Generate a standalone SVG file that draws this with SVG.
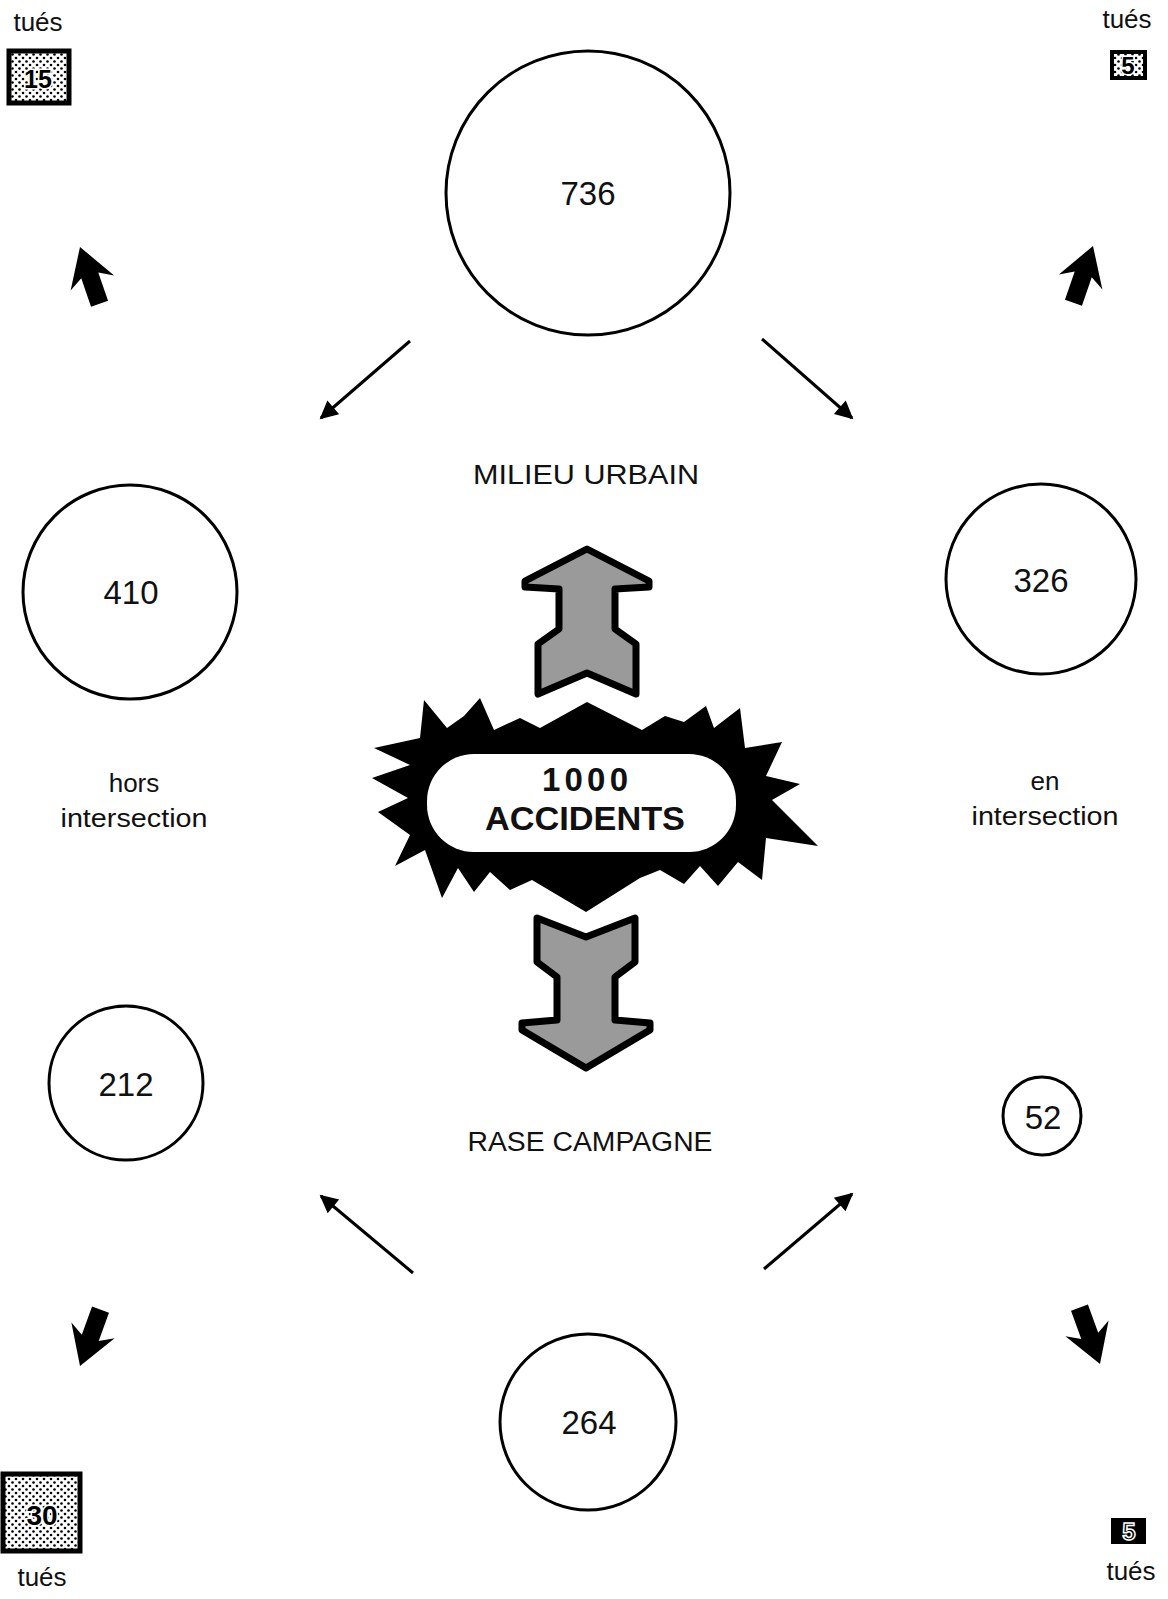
<svg xmlns="http://www.w3.org/2000/svg" xmlns:xlink="http://www.w3.org/1999/xlink" width="1168" height="1599" viewBox="0 0 1168 1599">
<defs>
<style>
.c{fill:#fff;stroke:#000;stroke-width:3}
.n{font-family:"Liberation Sans",Arial,sans-serif;font-size:33px;text-anchor:middle;fill:#111}
.t{font-family:"Liberation Sans",Arial,sans-serif;font-size:26px;text-anchor:middle;fill:#111}
.cap{font-family:"Liberation Sans",Arial,sans-serif;font-size:27px;text-anchor:middle;fill:#111}
.big{font-family:"Liberation Sans",Arial,sans-serif;font-size:33px;font-weight:bold;text-anchor:middle;fill:#111}
.bx{font-family:"Liberation Sans",Arial,sans-serif;font-weight:bold;text-anchor:middle;fill:#000;stroke:#fff;stroke-width:3;paint-order:stroke}
.ln{stroke:#000;stroke-width:3;fill:none}
.gr{fill:#9a9a9a;stroke:#000;stroke-width:7;stroke-linejoin:round}
</style>
<pattern id="dots" width="7" height="7" patternUnits="userSpaceOnUse">
<rect width="7" height="7" fill="#fff"/>
<circle cx="2" cy="2" r="1.3" fill="#000"/>
<circle cx="5.5" cy="5.5" r="1.3" fill="#000"/>
</pattern>
<marker id="ah" viewBox="0 0 10 10" refX="9" refY="5" markerWidth="7" markerHeight="6" markerUnits="strokeWidth" orient="auto">
<path d="M0,0 L10,5 L0,10 Z" fill="#000"/>
</marker>
<path id="fat" d="M0,0 L23,38 L9,30 L9,60 L-9,60 L-9,30 L-23,38 Z" fill="#000"/>
</defs>
<rect width="1168" height="1599" fill="#fff"/>

<g id="connectors">
<line class="ln" x1="410" y1="341" x2="321" y2="418" marker-end="url(#ah)"/>
<line class="ln" x1="762" y1="339" x2="852" y2="418" marker-end="url(#ah)"/>
<line class="ln" x1="413" y1="1273" x2="321" y2="1196" marker-end="url(#ah)"/>
<line class="ln" x1="764" y1="1269" x2="852" y2="1194" marker-end="url(#ah)"/>
<use xlink:href="#fat" transform="translate(80,247) rotate(-19)"/>
<use xlink:href="#fat" transform="translate(1093,246) rotate(19)"/>
<use xlink:href="#fat" transform="translate(80,1366) rotate(200)"/>
<use xlink:href="#fat" transform="translate(1100,1364) rotate(160)"/>
<path class="gr" d="M587,549 L649,581 L649,587 L615,589 L615,629 L636,644 L636,694 L587,673 L538,694 L538,644 L559,629 L559,589 L525,587 L525,581 Z"/>
<path class="gr" d="M537,918 L586,937 L635,918 L635,962 L615,977 L615,1020 L650,1023 L650,1030 L586,1068 L522,1030 L522,1023 L557,1020 L557,977 L537,962 Z"/>
</g>

<g id="n736"><circle class="c" cx="588" cy="193" r="142"/><text class="n" x="588" y="205">736</text></g>
<g id="milieu"><text class="cap" x="586" y="484" textLength="226" lengthAdjust="spacingAndGlyphs">MILIEU URBAIN</text></g>
<g id="n410"><circle class="c" cx="130" cy="592" r="107"/><text class="n" x="131" y="604">410</text></g>
<g id="n326"><circle class="c" cx="1041" cy="579" r="95"/><text class="n" x="1041" y="592">326</text></g>
<g id="hors"><text class="t" x="134" y="792">hors</text><text class="t" x="134" y="827" textLength="147" lengthAdjust="spacingAndGlyphs">intersection</text></g>
<g id="en"><text class="t" x="1045" y="790">en</text><text class="t" x="1045" y="825" textLength="147" lengthAdjust="spacingAndGlyphs">intersection</text></g>

<g id="accidents">
<path fill="#000" d="M374,748 L420,738 L424,700 L447,728 L464,716 L480,698 L494,730 L520,718 L540,728 L587,702 L642,730 L665,716 L684,722 L706,706 L714,728 L740,708 L745,748 L782,742 L766,776 L800,784 L772,800 L818,846 L766,838 L762,880 L738,862 L718,886 L700,866 L684,884 L660,870 L640,878 L586,912 L532,880 L510,890 L490,872 L474,892 L458,868 L442,898 L425,850 L395,866 L410,835 L378,812 L408,798 L372,778 L410,765 Z"/>
<rect x="427" y="754" width="309" height="98" rx="47" fill="#fff"/>
<text class="big" x="585" y="791" textLength="86" lengthAdjust="spacing">1000</text>
<text class="big" x="585" y="830" textLength="200" lengthAdjust="spacingAndGlyphs">ACCIDENTS</text>
</g>

<g id="n212"><circle class="c" cx="126" cy="1083" r="77"/><text class="n" x="126" y="1096">212</text></g>
<g id="n52"><circle class="c" cx="1042" cy="1116" r="39"/><text class="n" x="1043" y="1129">52</text></g>
<g id="rase"><text class="cap" x="590" y="1151" textLength="245" lengthAdjust="spacingAndGlyphs">RASE CAMPAGNE</text></g>
<g id="n264"><circle class="c" cx="588" cy="1422" r="88"/><text class="n" x="589" y="1434">264</text></g>

<g id="tues-tl"><text class="t" x="38" y="31">tués</text><rect x="9" y="51" width="60" height="52" fill="url(#dots)" stroke="#000" stroke-width="5"/><text class="bx" x="38" y="88" font-size="25">15</text></g>
<g id="tues-tr"><text class="t" x="1127" y="28">tués</text><rect x="1112" y="52" width="33" height="26" fill="url(#dots)" stroke="#000" stroke-width="4"/><text class="bx" x="1128" y="74" font-size="24">5</text></g>
<g id="tues-bl"><rect x="3" y="1474" width="77" height="77" fill="url(#dots)" stroke="#000" stroke-width="5"/><text class="bx" x="42" y="1525" font-size="28">30</text><text class="t" x="42" y="1586">tués</text></g>
<g id="tues-br"><rect x="1111" y="1518" width="35" height="26" fill="#000"/><text x="1129" y="1540" font-family="Liberation Sans,Arial,sans-serif" font-weight="bold" font-size="24" text-anchor="middle" fill="#000" stroke="#fff" stroke-width="1.5">5</text><text class="t" x="1131" y="1580">tués</text></g>
</svg>
